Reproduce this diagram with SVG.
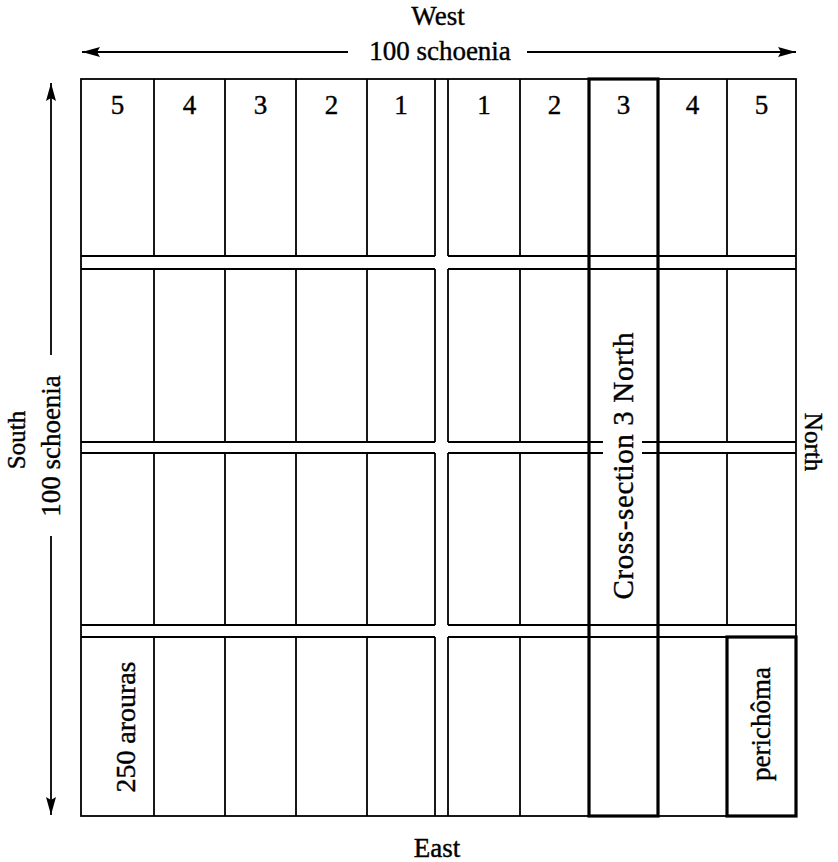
<svg xmlns="http://www.w3.org/2000/svg" width="838" height="862" viewBox="0 0 838 862">
<style>
.t{font-family:"Liberation Serif","Times New Roman",serif;font-size:27px;fill:#000;stroke:#000;stroke-width:0.4;text-anchor:middle}
.ln{stroke:#000;stroke-width:1.8;fill:none}
.bd{stroke:#000;stroke-width:3.2;fill:none}
.ar{stroke:#000;stroke-width:1.8;fill:none;marker-end:url(#ah)}
</style>
<defs>
<marker id="ah" viewBox="0 0 18 10" refX="18" refY="5" markerWidth="18" markerHeight="10" markerUnits="userSpaceOnUse" orient="auto">
<path d="M0,0 L18,5 L0,10 L3,5 z" fill="#000"/>
</marker>
</defs>
<rect width="838" height="862" fill="#fff"/>

<g id="labels">
<text class="t" x="438" y="25">West</text>
<text class="t" x="440" y="60">100 schoenia</text>
<text class="t" x="437" y="857">East</text>
<text class="t" style="font-size:25px" transform="translate(25,440) rotate(-90)">South</text>
<text class="t" transform="translate(60,446) rotate(-90)">100 schoenia</text>
<text class="t" style="font-size:25px" transform="translate(805,442) rotate(90)">North</text>
</g>

<g id="connectors">
<line class="ar" x1="348" y1="52" x2="82" y2="52"/>
<line class="ar" x1="527" y1="52" x2="796" y2="52"/>
<line class="ar" x1="51" y1="355" x2="51" y2="83"/>
<line class="ar" x1="51" y1="536" x2="51" y2="815"/>
</g>

<g id="grid">
<rect class="ln" x="81" y="79" width="715" height="737"/>
<path class="ln" d="M435,79V256 M448,79V256 M435,269V442 M448,269V442 M435,453V625 M448,453V625 M435,637V816 M448,637V816"/>
<path class="ln" d="M81,256H435 M81,269H435 M448,256H796 M448,269H796
M81,442H435 M81,453H435 M448,442H603 M642,442H796 M448,453H603 M642,453H796
M81,625H435 M81,637H435 M448,625H796 M448,637H796"/>
<path class="ln" d="M154,79V256 M225,79V256 M296,79V256 M367,79V256 M520,79V256 M589,79V256 M658,79V256 M727,79V256
M154,269V442 M225,269V442 M296,269V442 M367,269V442 M520,269V442 M589,269V442 M658,269V442 M727,269V442
M154,453V625 M225,453V625 M296,453V625 M367,453V625 M520,453V625 M589,453V625 M658,453V625 M727,453V625
M154,637V816 M225,637V816 M296,637V816 M367,637V816 M520,637V816 M589,637V816 M658,637V816 M727,637V816"/>
</g>

<g id="cross-section">
<rect class="bd" x="589" y="79" width="69" height="737"/>
<text class="t" style="font-size:29px" textLength="267" transform="translate(633,466) rotate(-90)">Cross-section 3 North</text>
</g>

<g id="perichoma">
<rect class="bd" x="727" y="637" width="69" height="179"/>
<text class="t" transform="translate(770,724) rotate(-90)">perichôma</text>
</g>

<g id="arouras">
<text class="t" style="font-size:28px" textLength="131" transform="translate(135,727) rotate(-90)">250 arouras</text>
</g>

<g id="numbers">
<text class="t" x="117.5" y="114">5</text>
<text class="t" x="189.5" y="114">4</text>
<text class="t" x="260.5" y="114">3</text>
<text class="t" x="331.5" y="114">2</text>
<text class="t" x="401" y="114">1</text>
<text class="t" x="484" y="114">1</text>
<text class="t" x="554.5" y="114">2</text>
<text class="t" x="623.5" y="114">3</text>
<text class="t" x="692.5" y="114">4</text>
<text class="t" x="761.5" y="114">5</text>
</g>
</svg>
